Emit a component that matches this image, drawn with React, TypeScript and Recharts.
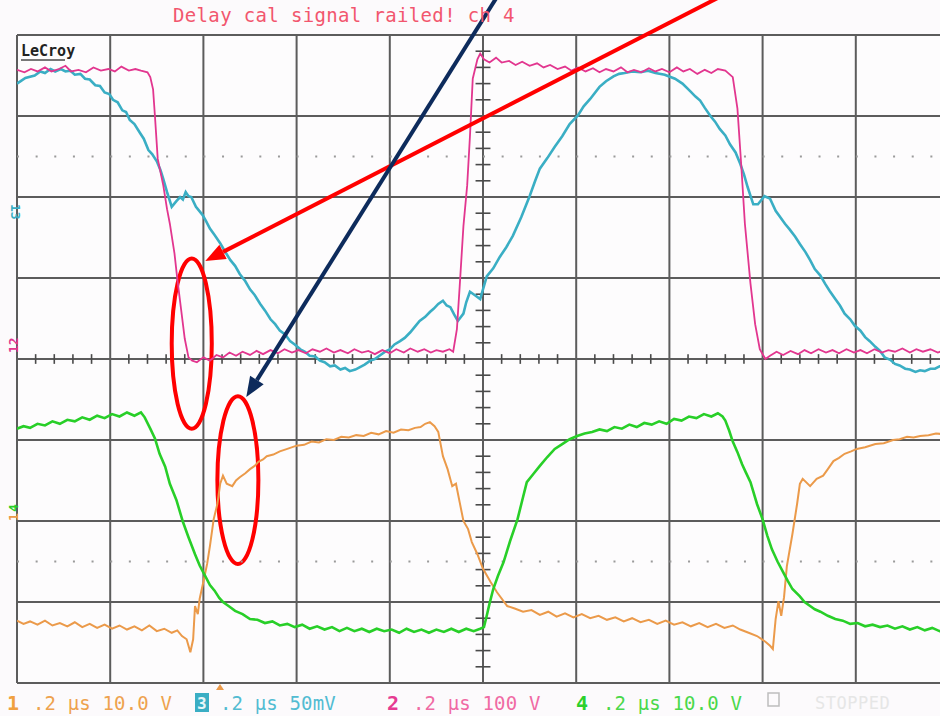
import { LineChart, Line, XAxis, YAxis, CartesianGrid, ReferenceLine, ReferenceArea } from 'recharts'

// time axis in divisions (0.2 us/div), amplitude in screen divisions
type Pt = [number, number]

const ch2Trace: Pt[] = [
  [0, 3.57], [0.08, 3.54], [0.15, 3.58], [0.22, 3.55], [0.3, 3.6], [0.37, 3.55], [0.45, 3.58], [0.52, 3.62],
  [0.58, 3.55], [0.66, 3.57], [0.74, 3.54], [0.82, 3.6], [0.9, 3.56], [0.98, 3.58], [1.05, 3.55], [1.12, 3.61],
  [1.2, 3.56], [1.27, 3.58], [1.33, 3.56], [1.4, 3.54], [1.43, 3.48], [1.46, 3.33], [1.48, 3.0], [1.51, 2.47],
  [1.57, 2.14], [1.61, 1.85], [1.64, 1.67], [1.69, 1.3], [1.72, 0.99], [1.76, 0.62], [1.8, 0.25], [1.84, 0.02],
  [1.88, -0.02], [1.93, -0.04], [2.0, 0.02], [2.07, -0.02], [2.14, 0.05], [2.21, 0.02], [2.28, 0.08], [2.35, 0.04],
  [2.42, 0.09], [2.5, 0.05], [2.57, 0.1], [2.64, 0.06], [2.72, 0.11], [2.8, 0.07], [2.87, 0.12], [2.95, 0.08],
  [3.02, 0.11], [3.1, 0.07], [3.17, 0.12], [3.25, 0.09], [3.32, 0.13], [3.4, 0.08], [3.47, 0.11], [3.55, 0.07],
  [3.62, 0.12], [3.7, 0.08], [3.77, 0.1], [3.84, 0.06], [3.92, 0.11], [4.0, 0.07], [4.07, 0.12], [4.15, 0.08],
  [4.22, 0.13], [4.3, 0.09], [4.37, 0.12], [4.44, 0.08], [4.5, 0.11], [4.57, 0.09], [4.64, 0.12], [4.68, 0.09],
  [4.72, 0.37], [4.75, 0.9], [4.79, 1.64], [4.83, 2.14], [4.86, 2.75], [4.89, 3.46], [4.94, 3.7], [4.97, 3.77],
  [5.01, 3.7], [5.07, 3.66], [5.14, 3.72], [5.2, 3.66], [5.28, 3.68], [5.35, 3.63], [5.42, 3.67], [5.5, 3.62],
  [5.58, 3.65], [5.65, 3.6], [5.72, 3.63], [5.8, 3.58], [5.88, 3.61], [5.95, 3.56], [6.02, 3.6], [6.1, 3.55],
  [6.18, 3.59], [6.25, 3.54], [6.32, 3.58], [6.4, 3.55], [6.48, 3.6], [6.55, 3.54], [6.62, 3.57], [6.7, 3.54],
  [6.78, 3.59], [6.85, 3.55], [6.92, 3.58], [7.0, 3.54], [7.08, 3.6], [7.15, 3.55], [7.22, 3.58], [7.3, 3.52],
  [7.38, 3.57], [7.45, 3.53], [7.52, 3.58], [7.6, 3.56], [7.68, 3.48], [7.73, 3.09], [7.77, 2.41], [7.81, 1.67],
  [7.87, 0.93], [7.92, 0.43], [7.97, 0.12], [8.03, 0.0], [8.08, 0.04], [8.15, 0.09], [8.22, 0.05], [8.3, 0.1],
  [8.38, 0.06], [8.45, 0.11], [8.52, 0.07], [8.6, 0.12], [8.68, 0.08], [8.75, 0.11], [8.82, 0.07], [8.9, 0.12],
  [8.98, 0.08], [9.05, 0.11], [9.12, 0.07], [9.2, 0.12], [9.28, 0.08], [9.35, 0.11], [9.42, 0.09], [9.5, 0.13],
  [9.58, 0.08], [9.65, 0.12], [9.72, 0.09], [9.8, 0.12], [9.88, 0.08], [9.95, 0.11], [10, 0.09],
]

const ch3Trace: Pt[] = [
  [0, 3.4], [0.09, 3.47], [0.19, 3.5], [0.25, 3.55], [0.3, 3.53], [0.36, 3.58], [0.41, 3.55], [0.47, 3.58],
  [0.52, 3.55], [0.57, 3.56], [0.62, 3.51], [0.68, 3.52], [0.73, 3.46], [0.78, 3.45], [0.84, 3.38], [0.89, 3.37],
  [0.94, 3.29], [0.99, 3.27], [1.03, 3.2], [1.08, 3.17], [1.13, 3.07], [1.17, 3.05], [1.21, 2.95], [1.26, 2.9],
  [1.32, 2.79], [1.36, 2.72], [1.41, 2.58], [1.45, 2.53], [1.5, 2.44], [1.54, 2.33], [1.57, 2.22], [1.61, 2.06],
  [1.66, 1.88], [1.71, 1.95], [1.75, 2.0], [1.78, 1.97], [1.81, 2.06], [1.84, 2.01], [1.87, 2.0], [1.92, 1.88],
  [1.99, 1.78], [2.03, 1.7], [2.07, 1.61], [2.12, 1.53], [2.18, 1.43], [2.23, 1.33], [2.29, 1.22], [2.34, 1.15],
  [2.39, 1.05], [2.45, 0.96], [2.5, 0.86], [2.55, 0.79], [2.61, 0.68], [2.66, 0.6], [2.72, 0.49], [2.77, 0.43],
  [2.82, 0.35], [2.88, 0.3], [2.93, 0.22], [2.98, 0.18], [3.04, 0.12], [3.09, 0.09], [3.14, 0.04], [3.2, 0.03],
  [3.25, -0.02], [3.3, -0.04], [3.36, -0.09], [3.41, -0.08], [3.47, -0.13], [3.52, -0.11], [3.57, -0.15], [3.63, -0.13],
  [3.68, -0.1], [3.73, -0.07], [3.79, -0.02], [3.84, 0.0], [3.9, 0.05], [3.95, 0.09], [4.0, 0.12], [4.05, 0.18],
  [4.11, 0.22], [4.16, 0.26], [4.22, 0.33], [4.27, 0.4], [4.32, 0.47], [4.38, 0.52], [4.43, 0.58], [4.47, 0.62],
  [4.52, 0.68], [4.57, 0.72], [4.61, 0.66], [4.65, 0.64], [4.69, 0.55], [4.73, 0.47], [4.79, 0.56], [4.82, 0.7],
  [4.86, 0.83], [4.91, 0.79], [4.97, 0.74], [5.04, 1.02], [5.11, 1.12], [5.18, 1.26], [5.25, 1.38], [5.32, 1.52],
  [5.41, 1.75], [5.5, 2.01], [5.56, 2.2], [5.61, 2.35], [5.69, 2.48], [5.77, 2.62], [5.85, 2.75], [5.93, 2.9],
  [6.02, 3.01], [6.08, 3.12], [6.15, 3.21], [6.25, 3.36], [6.32, 3.43], [6.4, 3.49], [6.46, 3.52], [6.52, 3.53],
  [6.6, 3.55], [6.69, 3.54], [6.77, 3.56], [6.85, 3.53], [6.95, 3.51], [7.06, 3.46], [7.14, 3.4], [7.22, 3.31],
  [7.28, 3.24], [7.33, 3.19], [7.38, 3.1], [7.44, 3.0], [7.49, 2.93], [7.54, 2.84], [7.6, 2.76], [7.65, 2.65],
  [7.71, 2.55], [7.76, 2.41], [7.8, 2.28], [7.84, 2.12], [7.9, 1.91], [7.95, 1.91], [8.02, 2.01], [8.08, 1.98],
  [8.14, 1.83], [8.19, 1.75], [8.24, 1.67], [8.29, 1.6], [8.35, 1.51], [8.4, 1.42], [8.46, 1.32], [8.51, 1.22],
  [8.56, 1.11], [8.62, 1.03], [8.67, 0.93], [8.72, 0.84], [8.78, 0.74], [8.83, 0.66], [8.88, 0.56], [8.94, 0.49],
  [8.99, 0.41], [9.05, 0.35], [9.1, 0.27], [9.15, 0.22], [9.21, 0.15], [9.26, 0.1], [9.31, 0.02], [9.37, -0.01],
  [9.42, -0.06], [9.47, -0.08], [9.53, -0.12], [9.58, -0.13], [9.64, -0.16], [9.69, -0.14], [9.74, -0.15], [9.8, -0.12],
  [9.85, -0.12], [9.9, -0.09], [9.96, -0.1],
]

const ch4Trace: Pt[] = [
  [0, -0.86], [0.07, -0.83], [0.14, -0.85], [0.22, -0.8], [0.3, -0.82], [0.38, -0.77], [0.46, -0.8], [0.54, -0.75],
  [0.62, -0.77], [0.7, -0.72], [0.78, -0.75], [0.86, -0.7], [0.94, -0.73], [1.02, -0.68], [1.1, -0.71], [1.18, -0.66],
  [1.26, -0.7], [1.33, -0.66], [1.37, -0.72], [1.43, -0.86], [1.48, -0.98], [1.53, -1.17], [1.59, -1.33], [1.64, -1.54],
  [1.71, -1.74], [1.78, -2.01], [1.84, -2.2], [1.91, -2.41], [1.96, -2.55], [2.02, -2.68], [2.07, -2.79], [2.12, -2.86],
  [2.17, -2.95], [2.21, -3.0], [2.27, -3.05], [2.34, -3.11], [2.42, -3.15], [2.5, -3.21], [2.58, -3.22], [2.66, -3.26],
  [2.74, -3.24], [2.82, -3.29], [2.9, -3.27], [2.98, -3.31], [3.06, -3.28], [3.14, -3.33], [3.22, -3.3], [3.3, -3.34],
  [3.38, -3.31], [3.46, -3.36], [3.54, -3.32], [3.62, -3.36], [3.7, -3.33], [3.78, -3.37], [3.86, -3.33], [3.94, -3.36],
  [4.02, -3.34], [4.1, -3.38], [4.18, -3.33], [4.26, -3.37], [4.34, -3.34], [4.42, -3.38], [4.5, -3.34], [4.58, -3.37],
  [4.66, -3.33], [4.74, -3.37], [4.82, -3.33], [4.9, -3.36], [4.97, -3.33], [5.01, -3.31], [5.04, -3.17], [5.07, -3.02],
  [5.11, -2.84], [5.16, -2.68], [5.22, -2.51], [5.29, -2.25], [5.37, -1.98], [5.42, -1.75], [5.47, -1.52], [5.54, -1.42],
  [5.61, -1.32], [5.69, -1.21], [5.77, -1.11], [5.85, -1.05], [5.93, -0.99], [6.01, -0.95], [6.09, -0.92], [6.17, -0.9],
  [6.25, -0.87], [6.33, -0.89], [6.41, -0.84], [6.49, -0.86], [6.57, -0.81], [6.65, -0.84], [6.73, -0.79], [6.81, -0.81],
  [6.89, -0.77], [6.97, -0.8], [7.05, -0.74], [7.13, -0.76], [7.21, -0.71], [7.29, -0.73], [7.37, -0.68], [7.45, -0.71],
  [7.52, -0.67], [7.57, -0.71], [7.6, -0.76], [7.64, -0.88], [7.68, -1.02], [7.73, -1.15], [7.78, -1.3], [7.82, -1.4],
  [7.87, -1.52], [7.94, -1.79], [8.0, -1.98], [8.05, -2.18], [8.1, -2.35], [8.16, -2.5], [8.22, -2.63], [8.27, -2.74],
  [8.32, -2.84], [8.4, -2.93], [8.45, -3.0], [8.51, -3.05], [8.56, -3.09], [8.62, -3.12], [8.7, -3.17], [8.78, -3.21],
  [8.86, -3.23], [8.94, -3.27], [9.02, -3.26], [9.1, -3.3], [9.18, -3.28], [9.26, -3.31], [9.34, -3.29], [9.42, -3.33],
  [9.5, -3.3], [9.58, -3.34], [9.66, -3.31], [9.74, -3.35], [9.82, -3.32], [9.9, -3.36], [9.98, -3.33],
]

const ch1Trace: Pt[] = [
  [0, -3.23], [0.07, -3.27], [0.14, -3.24], [0.22, -3.28], [0.3, -3.23], [0.38, -3.29], [0.46, -3.26], [0.54, -3.3],
  [0.62, -3.25], [0.7, -3.31], [0.78, -3.27], [0.86, -3.32], [0.94, -3.28], [1.02, -3.33], [1.1, -3.29], [1.18, -3.34],
  [1.26, -3.3], [1.34, -3.35], [1.42, -3.29], [1.5, -3.36], [1.58, -3.33], [1.66, -3.38], [1.72, -3.35], [1.77, -3.42],
  [1.82, -3.46], [1.86, -3.62], [1.89, -3.46], [1.91, -3.05], [1.94, -3.15], [1.96, -2.96], [2.0, -2.75], [2.04, -2.53],
  [2.07, -2.31], [2.11, -1.98], [2.15, -1.79], [2.18, -1.54], [2.21, -1.44], [2.25, -1.54], [2.31, -1.57], [2.35, -1.5],
  [2.39, -1.46], [2.45, -1.41], [2.5, -1.36], [2.55, -1.32], [2.59, -1.27], [2.64, -1.24], [2.68, -1.2], [2.75, -1.18],
  [2.82, -1.14], [2.9, -1.11], [3.0, -1.07], [3.08, -1.06], [3.16, -1.02], [3.24, -1.03], [3.32, -0.99], [3.4, -1.0],
  [3.48, -0.96], [3.56, -0.97], [3.64, -0.94], [3.72, -0.95], [3.8, -0.91], [3.88, -0.93], [3.96, -0.89], [4.04, -0.91],
  [4.12, -0.87], [4.2, -0.88], [4.27, -0.85], [4.33, -0.84], [4.38, -0.8], [4.43, -0.78], [4.48, -0.83], [4.52, -0.9],
  [4.57, -1.2], [4.62, -1.36], [4.67, -1.57], [4.71, -1.54], [4.75, -1.77], [4.79, -2.0], [4.84, -2.1], [4.88, -2.26],
  [4.94, -2.41], [5.0, -2.59], [5.08, -2.75], [5.15, -2.88], [5.26, -3.05], [5.34, -3.08], [5.43, -3.12], [5.52, -3.1],
  [5.61, -3.16], [5.7, -3.12], [5.79, -3.18], [5.88, -3.14], [5.97, -3.19], [6.06, -3.15], [6.15, -3.2], [6.24, -3.17],
  [6.33, -3.22], [6.42, -3.19], [6.51, -3.24], [6.6, -3.2], [6.69, -3.25], [6.78, -3.22], [6.87, -3.27], [6.96, -3.23],
  [7.05, -3.28], [7.14, -3.25], [7.23, -3.3], [7.32, -3.26], [7.41, -3.31], [7.5, -3.27], [7.59, -3.32], [7.68, -3.29],
  [7.76, -3.34], [7.85, -3.38], [7.94, -3.42], [8.03, -3.49], [8.08, -3.54], [8.11, -3.58], [8.14, -3.21], [8.17, -2.99],
  [8.2, -3.17], [8.23, -2.94], [8.26, -2.56], [8.32, -2.16], [8.37, -1.79], [8.4, -1.54], [8.43, -1.48], [8.51, -1.57],
  [8.58, -1.48], [8.65, -1.44], [8.7, -1.36], [8.76, -1.26], [8.82, -1.22], [8.88, -1.17], [8.95, -1.14], [9.01, -1.11],
  [9.1, -1.09], [9.21, -1.05], [9.3, -1.04], [9.4, -1.0], [9.47, -0.99], [9.55, -0.96], [9.62, -0.97], [9.69, -0.95],
  [9.78, -0.94], [9.86, -0.92], [9.96, -0.93],
]

// graticule: 10 x 8 divisions, minor ticks every 0.2 div on the centre axes
const majorX = [0, 1, 2, 3, 4, 5, 6, 7, 8, 9, 10]
const majorY = [-4, -3, -2, -1, 0, 1, 2, 3, 4]
const minorX = Array.from({ length: 49 }, (_, i) => (i + 1) * 0.2).filter((t) => Math.abs(t - Math.round(t)) > 0.01)
const minorY = Array.from({ length: 39 }, (_, i) => -4 + (i + 1) * 0.2).filter((v) => Math.abs(v - Math.round(v)) > 0.01)

// arrows and circles drawn on top of the screenshot, in graticule units
const arrows = [
  { from: { x: 7.54, y: 4.47 }, to: { x: 2.02, y: 1.21 }, color: '#ff0000' },
  { from: { x: 5.15, y: 4.47 }, to: { x: 2.46, y: -0.47 }, color: '#0d2b5c' },
]
const rings = [
  { x1: 1.66, x2: 2.09, y1: -0.86, y2: 1.24 },
  { x1: 2.15, x2: 2.59, y1: -2.53, y2: -0.46 },
]

const channels = [
  { key: 'ch1', data: ch1Trace, color: '#eb9a4a', width: 2 },
  { key: 'ch4', data: ch4Trace, color: '#28cf28', width: 2.6 },
  { key: 'ch3', data: ch3Trace, color: '#3aaec4', width: 2.6 },
  { key: 'ch2', data: ch2Trace, color: '#e2368f', width: 1.8 },
]

const legendItems = [
  { x: 33, text: '.2 µs 10.0 V', color: '#eea24e' },
  { x: 220, text: '.2 µs 50mV', color: '#52bcd2' },
  { x: 413, text: '.2 µs 100 V', color: '#f06aa4' },
  { x: 603, text: '.2 µs 10.0 V', color: '#4ad84a' },
]

const mono = '"DejaVu Sans Mono", "Liberation Mono", monospace'

function ArrowShape(props: any) {
  const { x1, y1, x2, y2, stroke } = props
  const ang = Math.atan2(y2 - y1, x2 - x1)
  const len = 20
  const half = 8
  const bx = x2 - len * Math.cos(ang)
  const by = y2 - len * Math.sin(ang)
  const px = -Math.sin(ang) * half
  const py = Math.cos(ang) * half
  return (
    <g>
      <line x1={x1} y1={y1} x2={bx} y2={by} stroke={stroke} strokeWidth={4} />
      <polygon points={`${x2},${y2} ${bx + px},${by + py} ${bx - px},${by - py}`} fill={stroke} />
    </g>
  )
}

function RingShape(props: any) {
  const { x, y, width, height } = props
  return (
    <ellipse cx={x + width / 2} cy={y + height / 2} rx={width / 2} ry={height / 2}
      fill="none" stroke="#ff0000" strokeWidth={4} />
  )
}

export default function App() {
  return (
    <div style={{ position: 'fixed', left: 0, top: 0, width: 940, height: 716, overflow: 'hidden', background: '#fcfafc' }}>
      <LineChart width={960} height={716} margin={{ top: 35, right: 11, bottom: 33, left: 17 }}>
        <XAxis type="number" dataKey="t" domain={[0, 10]} hide allowDataOverflow />
        <YAxis type="number" dataKey="v" domain={[-4, 4]} hide allowDataOverflow width={0} />
        <CartesianGrid verticalValues={majorX} horizontalValues={majorY} stroke="#5c5c5c" strokeWidth={2} fill="#fdfcfd" />
        <ReferenceLine y={2.5} stroke="#9a9a9a" strokeWidth={2} strokeDasharray="2 16.64" />
        <ReferenceLine y={-2.5} stroke="#9a9a9a" strokeWidth={2} strokeDasharray="2 16.64" />
        {minorX.map((t) => (
          <ReferenceLine key={`mx${t}`} segment={[{ x: t, y: -0.06 }, { x: t, y: 0.06 }]} stroke="#4a4a4a" strokeWidth={1.6} />
        ))}
        {minorY.map((v) => (
          <ReferenceLine key={`my${v}`} segment={[{ x: 4.92, y: v }, { x: 5.08, y: v }]} stroke="#4a4a4a" strokeWidth={1.6} />
        ))}
        {channels.map((c) => (
          <Line
            key={c.key}
            data={c.data.map(([t, v]) => ({ t, v }))}
            dataKey="v"
            type="linear"
            stroke={c.color}
            strokeWidth={c.width}
            dot={false}
            activeDot={false}
            isAnimationActive={false}
          />
        ))}
        {rings.map((r, i) => (
          <ReferenceArea key={`ring${i}`} x1={r.x1} x2={r.x2} y1={r.y1} y2={r.y2} ifOverflow="visible" shape={RingShape} />
        ))}
        {arrows.map((a, i) => (
          <ReferenceLine key={`arrow${i}`} segment={[a.from, a.to]} stroke={a.color} ifOverflow="visible" shape={ArrowShape} />
        ))}
      </LineChart>
      <svg width={940} height={716} style={{ position: 'absolute', left: 0, top: 0, pointerEvents: 'none' }}>
        <text x={173} y={22} fontFamily={mono} fontSize={19} letterSpacing={0.35} fill="#f2566e">
          Delay cal signal railed! ch 4
        </text>
        <text x={21} y={56} fontFamily={mono} fontSize={15} fontWeight="bold" fill="#222">LeCroy</text>
        <rect x={21} y={59} width={44} height={2} fill="#777" />
        <text x={0} y={0} transform="translate(11,204) rotate(90)" fontFamily={mono} fontSize={13} fontWeight="bold" fill="#3aaec4">13</text>
        <text x={0} y={0} transform="translate(18,353) rotate(-90)" fontFamily={mono} fontSize={13} fontWeight="bold" fill="#e2368f">12</text>
        <text x={0} y={0} transform="translate(18,521) rotate(-90)" fontFamily={mono} fontSize={13} fontWeight="bold" fill="#eb9a4a">1</text>
        <text x={0} y={0} transform="translate(18,512) rotate(-90)" fontFamily={mono} fontSize={13} fontWeight="bold" fill="#28cf28">4</text>
        <polygon points="216,690 224,690 220,684" fill="#eb9a4a" />
        <text x={7} y={710} fontFamily={mono} fontSize={20} fontWeight="bold" fill="#f0a040">1</text>
        <rect x={195} y={693} width={14} height={19} fill="#3aaec4" />
        <text x={197} y={709} fontFamily={mono} fontSize={16} fontWeight="bold" fill="#e8f6f9">3</text>
        <text x={387} y={710} fontFamily={mono} fontSize={20} fontWeight="bold" fill="#e63a92">2</text>
        <text x={576} y={710} fontFamily={mono} fontSize={20} fontWeight="bold" fill="#2cd02c">4</text>
        {legendItems.map((l) => (
          <text key={l.x} x={l.x} y={710} fontFamily={mono} fontSize={19} letterSpacing={0.15} fill={l.color}>{l.text}</text>
        ))}
        <rect x={768} y={693} width={11} height={13} fill="none" stroke="#bdbdbd" strokeWidth={1.5} />
        <text x={815} y={709} fontFamily={mono} fontSize={17} letterSpacing={0.5} fill="#e6e6e6">STOPPED</text>
      </svg>
    </div>
  )
}
